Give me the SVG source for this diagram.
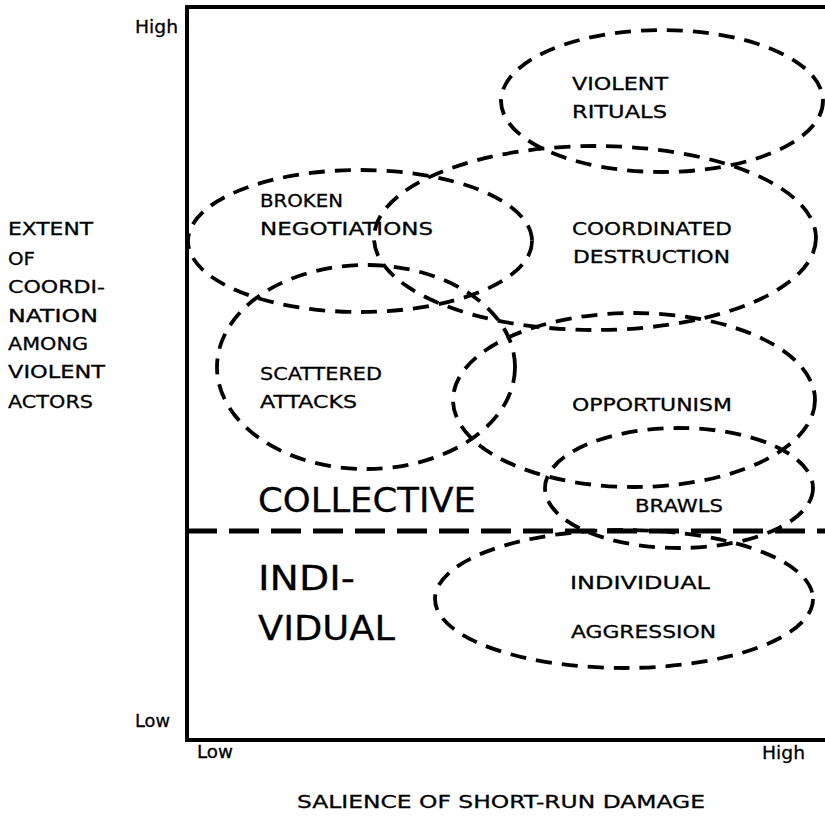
<svg xmlns="http://www.w3.org/2000/svg" width="825" height="820" viewBox="0 0 825 820">
<style>
text{font-family:"DejaVu Sans","Liberation Sans",sans-serif;fill:#000;stroke:#000;stroke-width:0.3;}
.s{font-size:18px;}
.big{font-size:34px;}
.ell{fill:none;stroke:#000;stroke-width:3.8;stroke-dasharray:16 10;}
.axis{fill:none;stroke:#000;stroke-width:4;}
.div{fill:none;stroke:#000;stroke-width:5;stroke-dasharray:30 12;}
</style>
<rect width="825" height="820" fill="#fff"/>
<g id="axes">
<path class="axis" d="M825 7 H187 V740 H825"/>
<text class="s" x="135" y="33" textLength="43" lengthAdjust="spacingAndGlyphs">High</text>
<text class="s" x="135" y="727" textLength="35" lengthAdjust="spacingAndGlyphs">Low</text>
<text class="s" x="197" y="758" textLength="36" lengthAdjust="spacingAndGlyphs">Low</text>
<text class="s" x="762" y="759" textLength="43" lengthAdjust="spacingAndGlyphs">High</text>
<text class="s" x="297" y="808" textLength="408" lengthAdjust="spacingAndGlyphs">SALIENCE OF SHORT-RUN DAMAGE</text>
</g>
<g id="y-label">
<text class="s" x="8" y="235" textLength="85" lengthAdjust="spacingAndGlyphs">EXTENT</text>
<text class="s" x="8" y="265" textLength="27" lengthAdjust="spacingAndGlyphs">OF</text>
<text class="s" x="8" y="293" textLength="97" lengthAdjust="spacingAndGlyphs">COORDI-</text>
<text class="s" x="8" y="322" textLength="90" lengthAdjust="spacingAndGlyphs">NATION</text>
<text class="s" x="8" y="350" textLength="80" lengthAdjust="spacingAndGlyphs">AMONG</text>
<text class="s" x="8" y="378" textLength="97" lengthAdjust="spacingAndGlyphs">VIOLENT</text>
<text class="s" x="8" y="408" textLength="85" lengthAdjust="spacingAndGlyphs">ACTORS</text>
</g>
<g id="connectors">
<path class="div" d="M187 531 H825"/>
</g>
<g id="violent-rituals">
<ellipse class="ell" cx="662" cy="101" rx="161" ry="71"/>
<text class="s" x="572" y="90" textLength="96" lengthAdjust="spacingAndGlyphs">VIOLENT</text>
<text class="s" x="572" y="118" textLength="95" lengthAdjust="spacingAndGlyphs">RITUALS</text>
</g>
<g id="coordinated-destruction">
<ellipse class="ell" cx="595" cy="238" rx="221" ry="92"/>
<text class="s" x="572" y="235" textLength="160" lengthAdjust="spacingAndGlyphs">COORDINATED</text>
<text class="s" x="573" y="263" textLength="157" lengthAdjust="spacingAndGlyphs">DESTRUCTION</text>
</g>
<g id="broken-negotiations">
<ellipse class="ell" cx="360" cy="241" rx="172" ry="71"/>
<text class="s" x="260" y="207" textLength="83" lengthAdjust="spacingAndGlyphs">BROKEN</text>
<text class="s" x="260" y="235" textLength="173" lengthAdjust="spacingAndGlyphs">NEGOTIATIONS</text>
</g>
<g id="scattered-attacks">
<ellipse class="ell" cx="366" cy="367" rx="149" ry="102"/>
<text class="s" x="260" y="380" textLength="122" lengthAdjust="spacingAndGlyphs">SCATTERED</text>
<text class="s" x="260" y="408" textLength="97" lengthAdjust="spacingAndGlyphs">ATTACKS</text>
</g>
<g id="opportunism">
<ellipse class="ell" cx="634" cy="400" rx="181" ry="87"/>
<text class="s" x="572" y="411" textLength="160" lengthAdjust="spacingAndGlyphs">OPPORTUNISM</text>
</g>
<g id="brawls">
<ellipse class="ell" cx="679" cy="488" rx="134" ry="60"/>
<text class="s" x="635" y="512" textLength="88" lengthAdjust="spacingAndGlyphs">BRAWLS</text>
</g>
<g id="collective">
<text class="big" x="258" y="512" textLength="218" lengthAdjust="spacingAndGlyphs">COLLECTIVE</text>
</g>
<g id="individual">
<text class="big" x="258" y="590" textLength="97" lengthAdjust="spacingAndGlyphs">INDI-</text>
<text class="big" x="258" y="640" textLength="137" lengthAdjust="spacingAndGlyphs">VIDUAL</text>
</g>
<g id="individual-aggression">
<ellipse class="ell" cx="624" cy="599" rx="189" ry="69"/>
<text class="s" x="570" y="589" textLength="140" lengthAdjust="spacingAndGlyphs">INDIVIDUAL</text>
<text class="s" x="571" y="638" textLength="145" lengthAdjust="spacingAndGlyphs">AGGRESSION</text>
</g>
</svg>
